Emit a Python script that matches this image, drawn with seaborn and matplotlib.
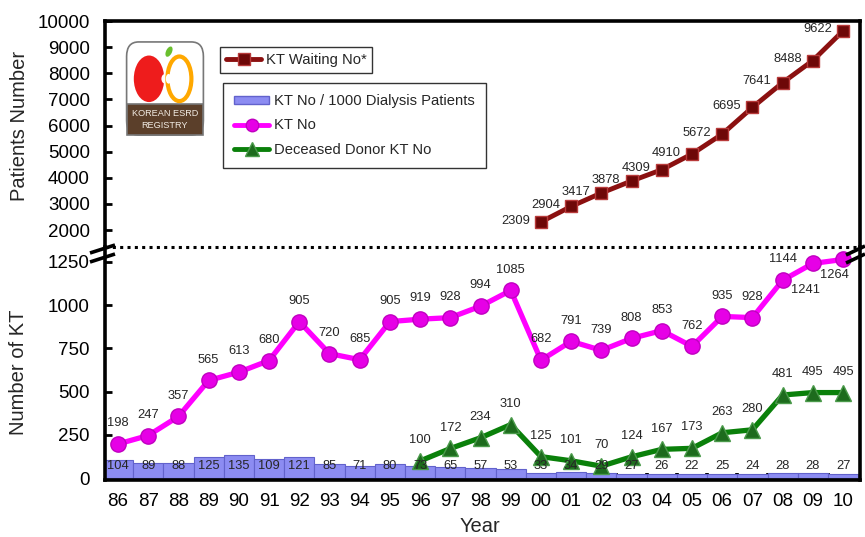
import numpy as np
import matplotlib
matplotlib.use("Agg")
import matplotlib.pyplot as plt
import seaborn as sns
from matplotlib.patches import Ellipse, FancyBboxPatch, Rectangle
from matplotlib.lines import Line2D

# ---- data -------------------------------------------------------------
years = ["86", "87", "88", "89", "90", "91", "92", "93", "94", "95", "96", "97",
         "98", "99", "00", "01", "02", "03", "04", "05", "06", "07", "08", "09", "10"]
kt_no = [198, 247, 357, 565, 613, 680, 905, 720, 685, 905, 919, 928, 994, 1085,
         682, 791, 739, 808, 853, 762, 935, 928, 1144, 1241, 1264]
kt_per_1000 = [104, 89, 88, 125, 135, 109, 121, 85, 71, 80, 73, 65, 57, 53,
               33, 34, 29, 27, 26, 22, 25, 24, 28, 28, 27]
deceased_years = years[10:]
deceased_kt = [100, 172, 234, 310, 125, 101, 70, 124, 167, 173, 263, 280, 481, 495, 495]
waiting_years = years[14:]
waiting_no = [2309, 2904, 3417, 3878, 4309, 4910, 5672, 6695, 7641, 8488, 9622]

upper_ticks = [2000, 3000, 4000, 5000, 6000, 7000, 8000, 9000, 10000]
lower_ticks = [0, 250, 500, 750, 1000, 1250]

# ---- style ------------------------------------------------------------
sns.set_theme(style="white")
plt.rcParams["font.family"] = ["Liberation Sans", "DejaVu Sans"]

W, H = 865, 537
fig = plt.figure(figsize=(W / 100, H / 100), dpi=100)


def fx(px):
    return px / W


def fy(py):
    return 1 - py / H


left, right = 105, 860
ax_top = fig.add_axes([fx(left), fy(247), fx(right) - fx(left), fy(21) - fy(247)])
ax_bot = fig.add_axes([fx(left), fy(480), fx(right) - fx(left), fy(247) - fy(480)])

pos = {y: i for i, y in enumerate(years)}
x_all = np.array([pos[y] for y in years])
x_dec = np.array([pos[y] for y in deceased_years])
x_wait = np.array([pos[y] for y in waiting_years])

MAG = "#ff00ff"
GRN = "#0a800a"
BLUE = "#8c8cf2"

# ---- lower panel: transplants ----------------------------------------
sns.barplot(x=years, y=kt_per_1000, order=years, ax=ax_bot, color=BLUE,
            saturation=1, width=1.0, edgecolor="#6262cc", linewidth=0.8, zorder=1)

sns.lineplot(x=x_all, y=kt_no, ax=ax_bot, color=MAG, lw=3.8, marker="o",
             markersize=11, markerfacecolor="#e600e6", markeredgecolor="#c000c0",
             markeredgewidth=1, legend=False, zorder=3)
sns.lineplot(x=x_dec, y=deceased_kt, ax=ax_bot, color=GRN, lw=3.8, marker="^",
             markersize=12, markerfacecolor="#1d6b1d", markeredgecolor="#4a9a4a",
             markeredgewidth=1, legend=False, zorder=3)

# ---- upper panel: waiting list ---------------------------------------
sns.lineplot(x=x_wait, y=waiting_no, ax=ax_top, color="#8b1010", lw=3.5, marker="s",
             markersize=9, markerfacecolor="#6e0808", markeredgecolor="#b83a3a",
             markeredgewidth=1, legend=False, clip_on=False, zorder=3)

# ---- axes formatting --------------------------------------------------
for ax in (ax_top, ax_bot):
    ax.set_xlim(-0.43, 24.56)
    ax.set_facecolor("white")
    ax.set_xlabel("")
    ax.set_ylabel("")
    for s in ax.spines.values():
        s.set_color("black")
        s.set_linewidth(2.6)
    ax.tick_params(axis="y", direction="in", length=5, width=2, labelsize=13.5,
                   pad=11, colors="black", left=True)

ax_top.set_ylim(1350, 10000)
ax_top.set_yticks(upper_ticks)
ax_top.set_yticklabels([str(v) for v in upper_ticks])
ax_top.set_xticks([])
ax_top.spines["bottom"].set_visible(False)

ax_bot.set_ylim(-10, 1336)
ax_bot.set_yticks(lower_ticks)
ax_bot.set_yticklabels([str(v) for v in lower_ticks])
ax_bot.spines["top"].set_visible(False)
ax_bot.set_xticks(x_all)
ax_bot.set_xticklabels(years)
ax_bot.set_xticks(x_all[:-1] + 0.5, minor=True)
ax_bot.tick_params(axis="x", which="major", length=0, labelsize=13.5, pad=9,
                   colors="black")
ax_bot.tick_params(axis="x", which="minor", direction="in", length=5, width=2.6,
                   bottom=True, colors="black")

# ---- value labels -----------------------------------------------------
lab_fs = 9.3
for x, v in zip(x_wait, waiting_no):
    ax_top.annotate(str(v), (x, v), xytext=(-8, 1), textcoords="offset points",
                    ha="right", va="center", fontsize=lab_fs, zorder=4)

kt_offsets = {"09": (-5, -19), "10": (-6, -11)}
for y, x, v in zip(years, x_all, kt_no):
    dx, dy = kt_offsets.get(y, (0, 15))
    ax_bot.annotate(str(v), (x, v), xytext=(dx, dy), textcoords="offset points",
                    ha="center", va="center", fontsize=lab_fs, zorder=4)

for x, v in zip(x_dec, deceased_kt):
    ax_bot.annotate(str(v), (x, v), xytext=(0, 15), textcoords="offset points",
                    ha="center", va="center", fontsize=lab_fs, zorder=4)

for x, v in zip(x_all, kt_per_1000):
    ax_bot.text(x, 69, str(v), ha="center", va="center", fontsize=lab_fs, zorder=5)

# ---- dotted break line and break marks --------------------------------
fig.add_artist(Line2D([fx(left), fx(right)], [fy(247), fy(247)], color="black",
                      lw=2.2, ls=(0, (1, 1.4)), transform=fig.transFigure))
for (x0, y0, x1, y1) in [(90, 253, 115, 245), (90, 262, 115, 254),
                         (846, 255, 865, 246), (846, 263, 865, 254)]:
    fig.add_artist(Line2D([fx(x0), fx(x1)], [fy(y0), fy(y1)], color="black",
                          lw=2.6, transform=fig.transFigure, solid_capstyle="butt"))

# ---- axis titles ------------------------------------------------------
fig.text(fx(20), fy(126), "Patients Number", rotation=90, ha="center", va="center",
         fontsize=14.5)
fig.text(fx(19), fy(372), "Number of KT", rotation=90, ha="center", va="center",
         fontsize=14.5)
fig.text(fx(480), fy(527), "Year", ha="center", va="center", fontsize=14.5)

# ---- legends ----------------------------------------------------------
h_wait = Line2D([], [], color="#8b1010", lw=3.5, marker="s", markersize=8,
                markerfacecolor="#6e0808", markeredgecolor="#b83a3a")
leg1 = fig.legend([h_wait], ["KT Waiting No*"], loc="upper left",
                  bbox_to_anchor=(fx(220), fy(47)), fontsize=10.6, frameon=True,
                  fancybox=False, handlelength=2.4, handletextpad=0.3,
                  borderpad=0.4, borderaxespad=0)
leg1.get_frame().set_edgecolor("black")
leg1.get_frame().set_linewidth(1.0)

h_bar = Rectangle((0, 0), 1, 1, facecolor=BLUE, edgecolor="#6262cc")
h_kt = Line2D([], [], color=MAG, lw=3.5, marker="o", markersize=9,
              markerfacecolor="#e600e6", markeredgecolor="#c000c0")
h_dec = Line2D([], [], color=GRN, lw=3.5, marker="^", markersize=10,
               markerfacecolor="#1d6b1d", markeredgecolor="#4a9a4a")
leg2 = fig.legend([h_bar, h_kt, h_dec],
                  ["KT No / 1000 Dialysis Patients", "KT No", "Deceased Donor KT No"],
                  loc="upper left", bbox_to_anchor=(fx(223), fy(83)), fontsize=10.6,
                  frameon=True, fancybox=False, handlelength=2.4, handleheight=0.5,
                  handletextpad=0.3, labelspacing=0.7, borderpad=0.75,
                  borderaxespad=0)
leg2.get_frame().set_edgecolor("black")
leg2.get_frame().set_linewidth(1.0)

# ---- registry badge ---------------------------------------------------
logo = fig.add_axes([fx(125), fy(137), fx(205) - fx(125), fy(40) - fy(137)])
logo.set_xlim(0, 1)
logo.set_ylim(0, 1)
logo.axis("off")
logo.add_patch(FancyBboxPatch((0.02, 0.02), 0.96, 0.96,
                              boxstyle="round,pad=0,rounding_size=0.15",
                              facecolor="white", edgecolor="#777777", lw=1.2))
logo.add_patch(Rectangle((0.02, 0.02), 0.96, 0.32, facecolor="#5b3f2a",
                         edgecolor="#777777", lw=1.2))
# red bean with its notch
logo.add_patch(Ellipse((0.30, 0.60), 0.38, 0.48, facecolor="#ee1c1c",
                       edgecolor="none"))
logo.add_patch(Ellipse((0.50, 0.60), 0.09, 0.10, facecolor="white",
                       edgecolor="none"))
# orange outlined bean
logo.add_patch(Ellipse((0.68, 0.60), 0.30, 0.46, facecolor="none",
                       edgecolor="#ffa800", lw=3))
logo.add_patch(Ellipse((0.545, 0.60), 0.07, 0.10, facecolor="white",
                       edgecolor="none"))
# leaf
logo.add_patch(Ellipse((0.55, 0.88), 0.07, 0.12, angle=-35, facecolor="#6abf2e",
                       edgecolor="none"))
logo.text(0.5, 0.18, "KOREAN ESRD\nREGISTRY", ha="center", va="center",
          fontsize=6.6, color="#f2ece4", linespacing=1.45)

fig.savefig("out.png", dpi=100)
